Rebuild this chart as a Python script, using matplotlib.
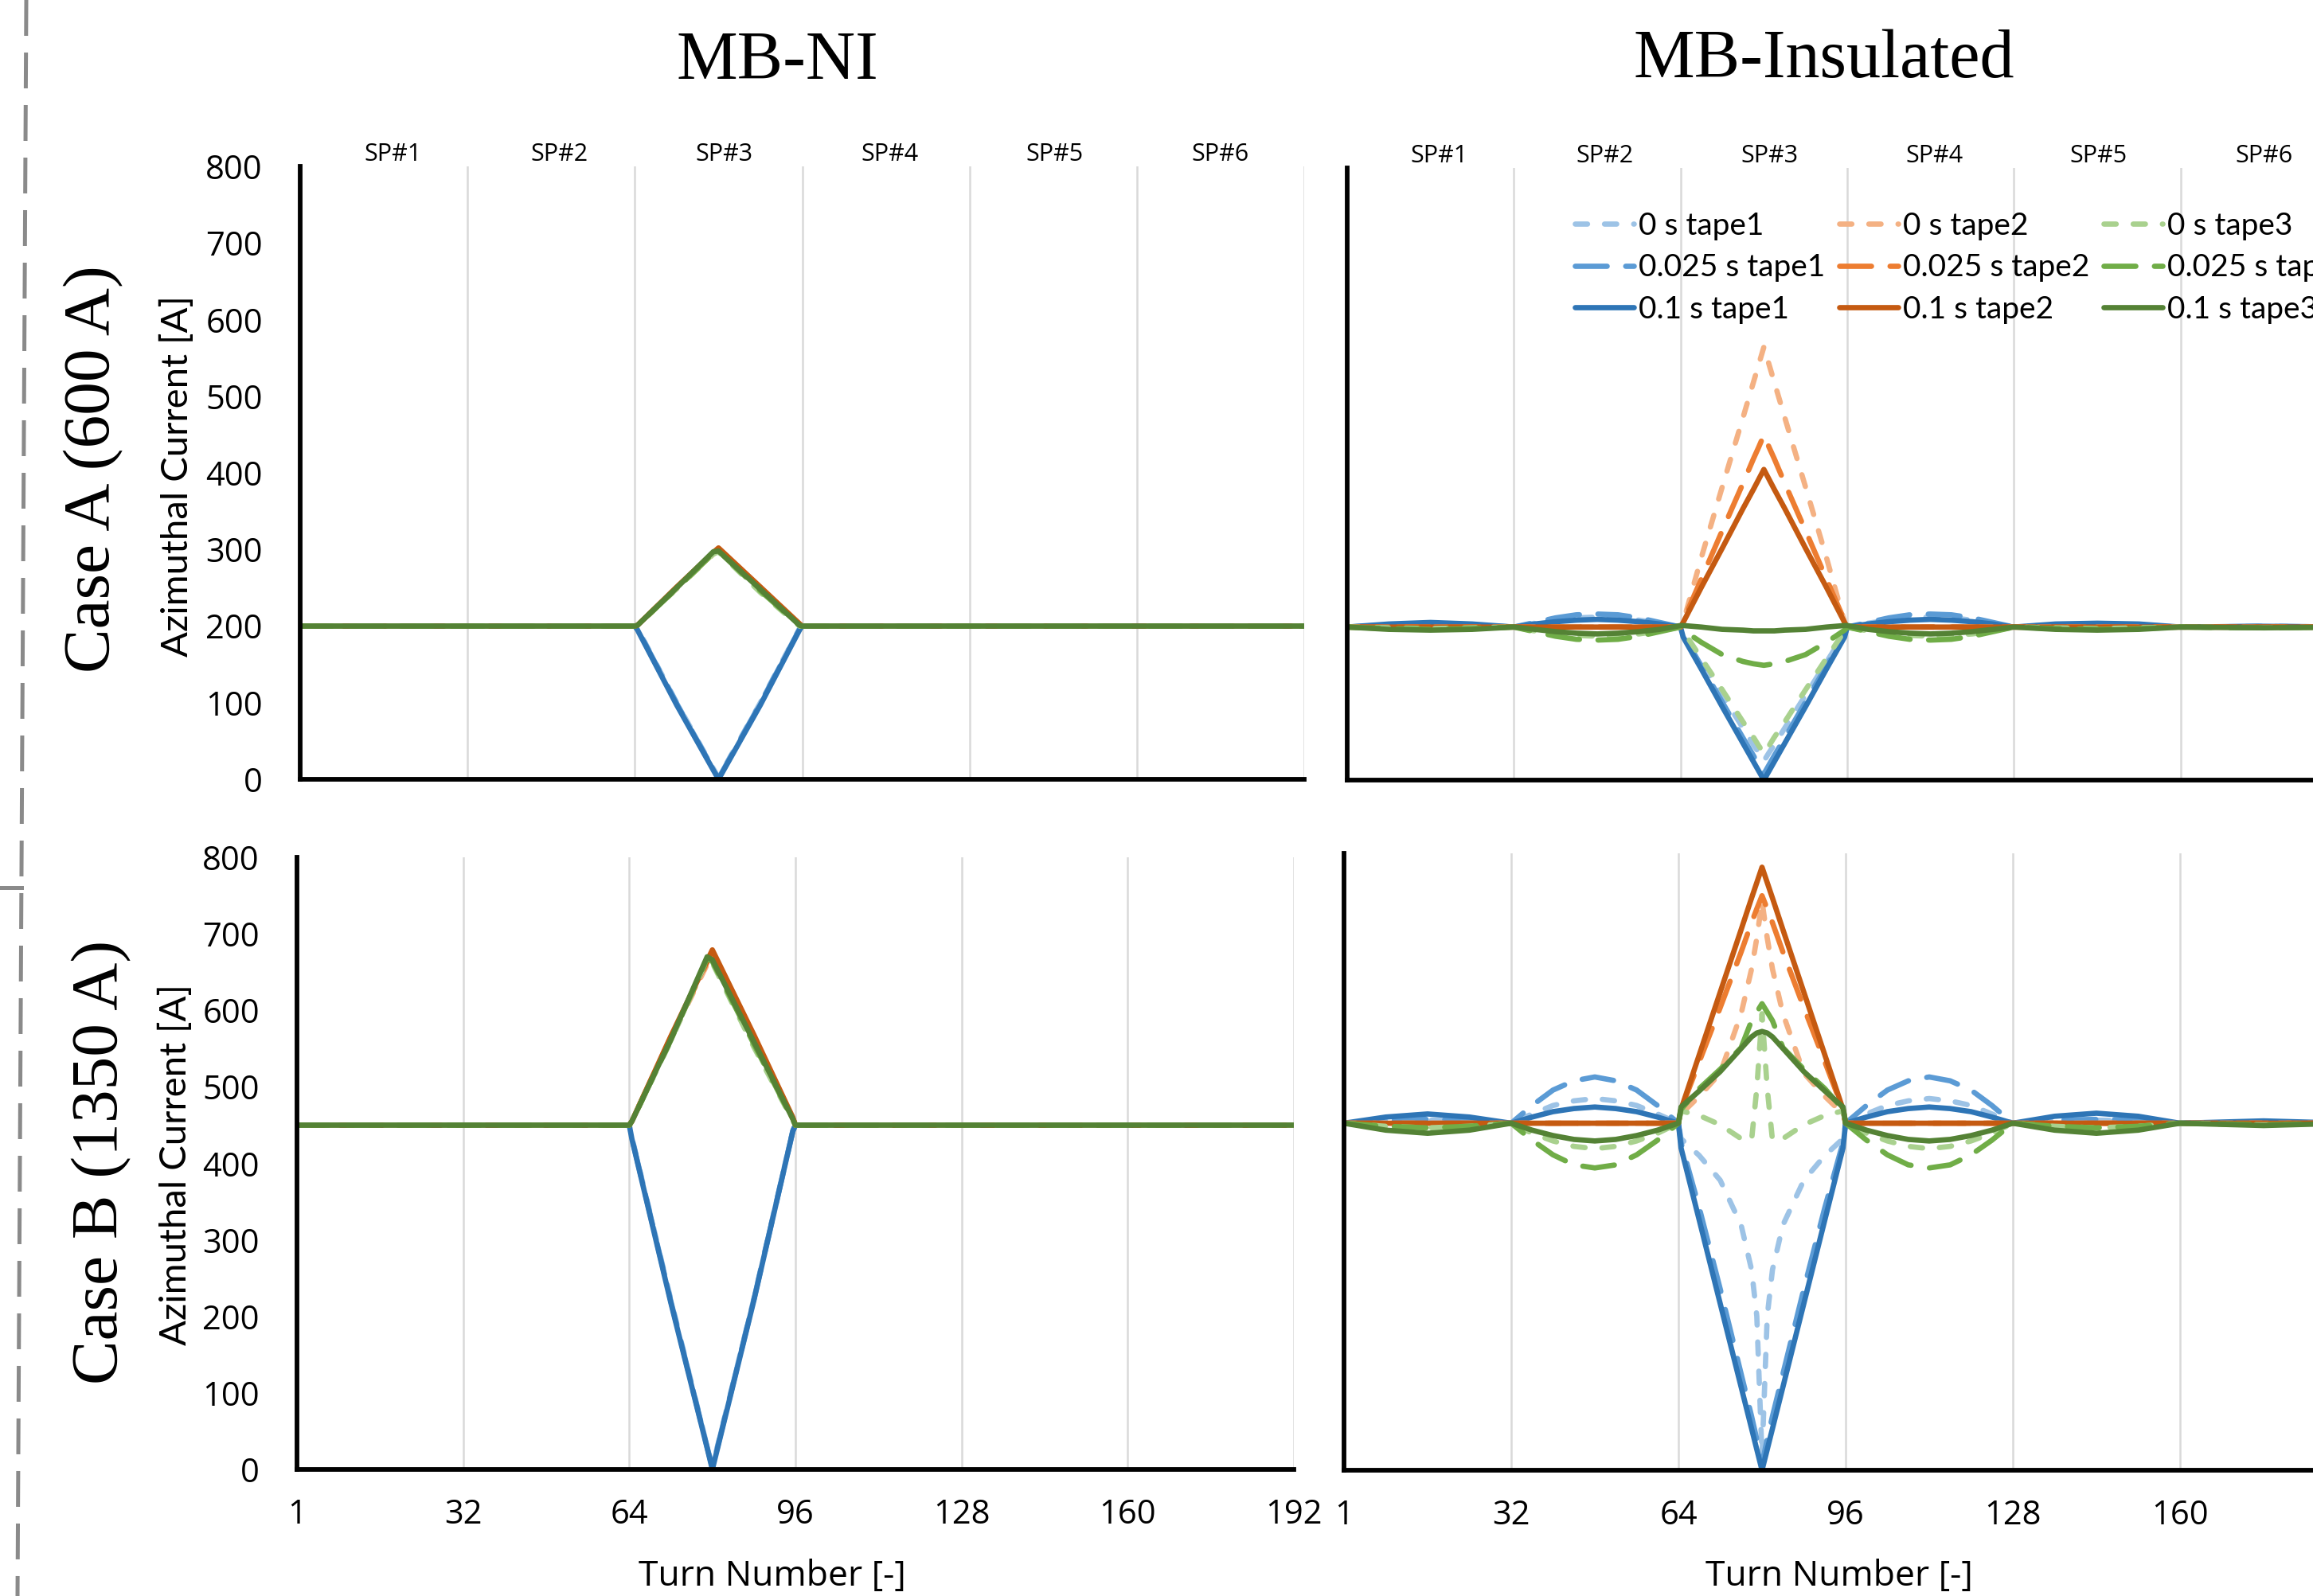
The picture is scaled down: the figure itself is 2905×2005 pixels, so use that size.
import matplotlib
matplotlib.use('Agg')
import matplotlib.pyplot as plt
from matplotlib.lines import Line2D

# ---------------- data ----------------
X_TICKS = [0, 32, 64, 96, 128, 160, 192]
X_TICK_LABELS = ['1', '32', '64', '96', '128', '160', '192']
Y_TICKS = [0, 100, 200, 300, 400, 500, 600, 700, 800]
SP_LABELS = ['SP#1', 'SP#2', 'SP#3', 'SP#4', 'SP#5', 'SP#6']
SP_POS = [17.7, 49.5, 81.1, 112.7, 144.3, 176.0]
SERIES_LABELS = ['0 s tape1', '0.025 s tape1', '0.1 s tape1',
                 '0 s tape2', '0.025 s tape2', '0.1 s tape2',
                 '0 s tape3', '0.025 s tape3', '0.1 s tape3']

# MB-NI turn positions
X_NI = [0, 32, 64, 64.5, 72, 79, 80, 88, 95.5, 96, 128, 160, 192]

A_NI_T1_00 = [200, 200, 200, 197, 100, 14, 2, 100, 197, 200, 200, 200, 200]
A_NI_T1_025 = [200, 200, 200, 196, 99, 13, 1, 99, 196, 200, 200, 200, 200]
A_NI_T1_01 = [200, 200, 200, 195, 97, 12, 0, 97, 195, 200, 200, 200, 200]
A_NI_T2_00 = [200, 200, 200, 201, 249, 294, 300, 249, 202, 200, 200, 200, 200]
A_NI_T2_025 = [200, 200, 200, 201, 250, 295, 301, 250, 202, 200, 200, 200, 200]
A_NI_T2_01 = [200, 200, 200, 201, 251, 296, 302, 251, 203, 200, 200, 200, 200]
A_NI_T3_00 = [200, 200, 200, 201, 249, 294, 297, 244, 200, 200, 200, 200, 200]
A_NI_T3_025 = [200, 200, 200, 201, 249, 295, 298, 246, 201, 200, 200, 200, 200]
A_NI_T3_01 = [200, 200, 200, 201, 250, 297, 298, 248, 201, 200, 200, 200, 200]

B_NI_T1_00 = [450, 450, 450, 434, 222, 30, 3, 223, 443, 450, 450, 450, 450]
B_NI_T1_025 = [450, 450, 450, 433, 220, 29, 2, 222, 442, 450, 450, 450, 450]
B_NI_T1_01 = [450, 450, 450, 432, 218, 28, 0, 221, 442, 450, 450, 450, 450]
B_NI_T2_00 = [450, 450, 450, 455, 563, 660, 673, 562, 458, 450, 450, 450, 450]
B_NI_T2_025 = [450, 450, 450, 455, 565, 663, 676, 565, 459, 450, 450, 450, 450]
B_NI_T2_01 = [450, 450, 450, 455, 566, 665, 679, 568, 460, 450, 450, 450, 450]
B_NI_T3_00 = [450, 450, 450, 455, 560, 667, 662, 552, 456, 450, 450, 450, 450]
B_NI_T3_025 = [450, 450, 450, 455, 561, 668, 664, 556, 457, 450, 450, 450, 450]
B_NI_T3_01 = [450, 450, 450, 455, 562, 670, 666, 559, 458, 450, 450, 450, 450]

# MB-Insulated turn positions
X_INS = [0, 8, 16, 24,
         32, 36, 40, 44, 48, 52, 56, 60,
         64, 64.5, 68, 72, 76, 78, 79, 80, 81, 82, 84, 88, 92, 95.5,
         96, 100, 104, 108, 112, 116, 120, 124,
         128, 136, 144, 152,
         160, 176, 192]

A_IN_T1_00 = [200, 202, 203, 202,
              200, 205, 209, 212, 213, 212, 209, 205,
              200, 192, 154, 111, 68, 46, 36, 25, 36, 46, 68, 111, 154, 192,
              200, 205, 209, 212, 213, 212, 209, 205,
              200, 202, 203, 202,
              200, 201, 200]
A_IN_T1_025 = [200, 203, 204, 203,
               200, 206, 212, 216, 217, 216, 212, 206,
               200, 190, 149, 102, 55, 32, 20, 8, 20, 32, 55, 102, 149, 190,
               200, 206, 212, 216, 217, 216, 212, 206,
               200, 203, 204, 203,
               200, 201, 200]
A_IN_T1_01 = [200, 204, 206, 204,
              200, 204, 207, 209, 210, 209, 207, 204,
              200, 187, 145, 96, 48, 24, 12, 0, 12, 24, 48, 96, 145, 187,
              200, 204, 207, 209, 210, 209, 207, 204,
              200, 204, 205, 204,
              200, 201, 200]
A_IN_T2_00 = [200, 200, 200, 200,
              200, 200, 200, 200, 200, 200, 200, 200,
              200, 206, 291, 383, 474, 520, 543, 566, 543, 520, 474, 383, 291, 206,
              200, 200, 200, 200, 200, 200, 200, 200,
              200, 200, 200, 200,
              200, 200, 200]
A_IN_T2_025 = [200, 200, 200, 200,
               200, 200, 200, 200, 200, 200, 200, 200,
               200, 208, 263, 326, 388, 420, 435, 451, 435, 420, 388, 326, 263, 208,
               200, 200, 200, 200, 200, 200, 200, 200,
               200, 200, 200, 200,
               200, 200, 200]
A_IN_T2_01 = [200, 200, 200, 200,
              200, 200, 200, 200, 200, 200, 200, 200,
              200, 206, 252, 303, 355, 380, 393, 406, 393, 380, 355, 303, 252, 206,
              200, 200, 200, 200, 200, 200, 200, 200,
              200, 200, 200, 200,
              200, 200, 200]
A_IN_T3_00 = [200, 199, 198, 199,
              200, 195, 191, 189, 188, 189, 191, 195,
              200, 195, 159, 118, 76, 56, 45, 35, 45, 56, 76, 118, 159, 195,
              200, 195, 191, 189, 188, 189, 191, 195,
              200, 199, 198, 199,
              200, 199, 200]
A_IN_T3_025 = [200, 198, 197, 198,
               200, 194, 188, 184, 183, 184, 188, 194,
               200, 196, 180, 164, 155, 152, 151, 150, 151, 152, 155, 164, 180, 196,
               200, 194, 188, 184, 183, 184, 188, 194,
               200, 198, 197, 198,
               200, 199, 200]
A_IN_T3_01 = [200, 197, 196, 197,
              200, 197, 194, 192, 191, 192, 194, 197,
              202, 202, 200, 197, 196, 195, 195, 195, 195, 195, 196, 197, 200, 202,
              202, 197, 194, 192, 191, 192, 194, 197,
              200, 197, 196, 197,
              200, 199, 200]

B_IN_T1_00 = [450, 453, 454, 453,
              450, 462, 473, 479, 482, 479, 473, 462,
              450, 430, 408, 376, 318, 260, 200, 18, 200, 260, 318, 376, 408, 430,
              450, 462, 473, 479, 482, 479, 473, 462,
              450, 453, 454, 453,
              450, 451, 450]
B_IN_T1_025 = [450, 454, 455, 454,
               450, 473, 493, 505, 510, 505, 493, 473,
               450, 425, 340, 235, 125, 70, 40, 8, 40, 70, 125, 235, 340, 425,
               450, 473, 493, 505, 510, 505, 493, 473,
               450, 454, 455, 454,
               450, 451, 450]
B_IN_T1_01 = [450, 458, 462, 458,
              450, 458, 465, 469, 471, 469, 465, 458,
              450, 418, 324, 216, 108, 54, 27, 0, 27, 54, 108, 216, 324, 418,
              450, 458, 465, 469, 471, 469, 465, 458,
              450, 459, 463, 459,
              450, 453, 450]
B_IN_T2_00 = [450, 450, 450, 450,
              450, 450, 450, 450, 450, 450, 450, 450,
              450, 462, 485, 515, 592, 650, 690, 738, 690, 650, 592, 515, 485, 462,
              450, 450, 450, 450, 450, 450, 450, 450,
              450, 450, 450, 450,
              450, 450, 450]
B_IN_T2_025 = [450, 450, 450, 450,
               450, 450, 450, 450, 450, 450, 450, 450,
               450, 468, 530, 600, 672, 710, 728, 745, 728, 710, 672, 600, 530, 468,
               450, 450, 450, 450, 450, 450, 450, 450,
               450, 450, 450, 450,
               450, 450, 450]
B_IN_T2_01 = [450, 450, 450, 450,
              450, 450, 450, 450, 450, 450, 450, 450,
              450, 468, 539, 620, 701, 742, 762, 782, 762, 742, 701, 620, 539, 468,
              450, 450, 450, 450, 450, 450, 450, 450,
              450, 450, 450, 450,
              450, 450, 450]
B_IN_T3_00 = [450, 446, 444, 446,
              450, 437, 427, 420, 417, 420, 427, 437,
              450, 466, 460, 448, 430, 428, 495, 592, 495, 428, 430, 448, 460, 466,
              450, 437, 427, 420, 417, 420, 427, 437,
              450, 446, 444, 446,
              450, 448, 450]
B_IN_T3_025 = [450, 446, 444, 446,
               450, 428, 409, 396, 392, 396, 409, 428,
               450, 468, 495, 520, 548, 583, 594, 605, 594, 583, 548, 520, 495, 468,
               450, 428, 409, 396, 392, 396, 409, 428,
               450, 446, 444, 446,
               450, 448, 450]
B_IN_T3_01 = [450, 441, 437, 441,
              450, 441, 434, 429, 427, 429, 434, 441,
              450, 471, 492, 517, 547, 562, 567, 569, 567, 562, 547, 517, 492, 471,
              450, 441, 434, 429, 427, 429, 434, 441,
              450, 441, 437, 441,
              450, 447, 450]

# ---------------- styles ----------------
COLORS = ['#9DC3E6', '#5B9BD5', '#2E75B6',
          '#F4B183', '#ED7D31', '#C55A11',
          '#A9D18E', '#70AD47', '#548235']
DASHES = [(2.3, 3.2), (6.0, 3.5), None] * 3
LW = 4.8

plt.rcParams['font.family'] = ['Open Sans', 'DejaVu Sans']

W, H = 2905, 2005
fig = plt.figure(figsize=(W / 100, H / 100), dpi=100)


def rect(l, t, r, b):
    return [l / W, 1 - b / H, (r - l) / W, (b - t) / H]


def fx(px):
    return px / W


def fy(py):
    return 1 - py / H


ax_a_ni = fig.add_axes(rect(377, 209, 1638, 979))
ax_a_in = fig.add_axes(rect(1692, 211, 2948, 980))
ax_b_ni = fig.add_axes(rect(373, 1077, 1625, 1846))
ax_b_in = fig.add_axes(rect(1688, 1072, 2948, 1847))


def setup(ax, left_labels, bottom_labels, top_sp):
    ax.set_xlim(0, 192)
    ax.set_ylim(0, 800)
    ax.set_xticks(X_TICKS)
    ax.set_xticklabels(X_TICK_LABELS)
    ax.set_yticks(Y_TICKS)
    ax.tick_params(axis='both', length=0, labelsize=30, colors='black')
    ax.tick_params(axis='y', pad=34, labelleft=left_labels)
    ax.tick_params(axis='x', pad=26, labelbottom=bottom_labels)
    for s in ['top', 'right']:
        ax.spines[s].set_visible(False)
    for s in ['left', 'bottom']:
        ax.spines[s].set_linewidth(4.2)
        ax.spines[s].set_color('black')
        ax.spines[s].set_zorder(5)
    ax.grid(axis='x', color='#d9d9d9', lw=1.8)
    ax.grid(axis='y', visible=False)
    ax.set_axisbelow(True)
    ax.set_facecolor('none')
    if top_sp:
        for lab, p in zip(SP_LABELS, SP_POS):
            ax.text(p, 816, lab, ha='center', va='center', fontsize=22,
                    family='Open Sans', clip_on=False)


def draw(ax, x, series):
    lines = []
    for ys, c, d, lab in zip(series, COLORS, DASHES, SERIES_LABELS):
        if d is None:
            ln, = ax.plot(x, ys, color=c, lw=LW, label=lab,
                          solid_joinstyle='round', solid_capstyle='round')
        else:
            ln, = ax.plot(x, ys, color=c, lw=LW, label=lab, dashes=d,
                          dash_capstyle='round', dash_joinstyle='round')
        lines.append(ln)
    return lines


setup(ax_a_ni, True, False, True)
setup(ax_a_in, False, False, True)
setup(ax_b_ni, True, True, False)
setup(ax_b_in, False, True, False)

draw(ax_a_ni, X_NI, [A_NI_T1_00, A_NI_T1_025, A_NI_T1_01,
                     A_NI_T2_00, A_NI_T2_025, A_NI_T2_01,
                     A_NI_T3_00, A_NI_T3_025, A_NI_T3_01])
handles = draw(ax_a_in, X_INS, [A_IN_T1_00, A_IN_T1_025, A_IN_T1_01,
                                A_IN_T2_00, A_IN_T2_025, A_IN_T2_01,
                                A_IN_T3_00, A_IN_T3_025, A_IN_T3_01])
draw(ax_b_ni, X_NI, [B_NI_T1_00, B_NI_T1_025, B_NI_T1_01,
                     B_NI_T2_00, B_NI_T2_025, B_NI_T2_01,
                     B_NI_T3_00, B_NI_T3_025, B_NI_T3_01])
draw(ax_b_in, X_INS, [B_IN_T1_00, B_IN_T1_025, B_IN_T1_01,
                      B_IN_T2_00, B_IN_T2_025, B_IN_T2_01,
                      B_IN_T3_00, B_IN_T3_025, B_IN_T3_01])

fig.legend(handles, SERIES_LABELS, ncol=3, loc='upper left',
           bbox_to_anchor=(fx(1978), fy(266)), bbox_transform=fig.transFigure,
           frameon=False, prop={'family': 'Lato', 'size': 28},
           handlelength=1.9, handletextpad=0.16, columnspacing=0.45,
           labelspacing=0.42, borderpad=0, borderaxespad=0)

# titles
fig.text(fx(976), fy(99), 'MB-NI', ha='center', va='baseline',
         family='Liberation Serif', fontsize=62)
fig.text(fx(2291), fy(97), 'MB-Insulated', ha='center', va='baseline',
         family='Liberation Serif', fontsize=62)
fig.text(fx(118), fy(589), 'Case A (600 A)', ha='center', va='center',
         rotation=90, family='Liberation Serif', fontsize=60)
fig.text(fx(128), fy(1460), 'Case B (1350 A)', ha='center', va='center',
         rotation=90, family='Liberation Serif', fontsize=60)

# axis labels
fig.text(fx(222), fy(598), 'Azimuthal Current [A]', ha='center', va='center',
         rotation=90, family='Lato', fontsize=34)
fig.text(fx(220), fy(1463), 'Azimuthal Current [A]', ha='center', va='center',
         rotation=90, family='Lato', fontsize=34)
fig.text(fx(970), fy(1992), 'Turn Number [-]', ha='center', va='baseline',
         family='Open Sans', fontsize=32)
fig.text(fx(2310), fy(1992), 'Turn Number [-]', ha='center', va='baseline',
         family='Open Sans', fontsize=32)

# dashed frame on the left
fig.add_artist(Line2D([fx(33), fx(22)], [fy(0), fy(2005)], color='#8a8a8a',
                      lw=3.6, dashes=(9, 4.2), transform=fig.transFigure))
fig.add_artist(Line2D([fx(0), fx(27)], [fy(1115), fy(1115)], color='#8a8a8a',
                      lw=3.6, transform=fig.transFigure))

fig.savefig('out.png', dpi=100, facecolor='white')
